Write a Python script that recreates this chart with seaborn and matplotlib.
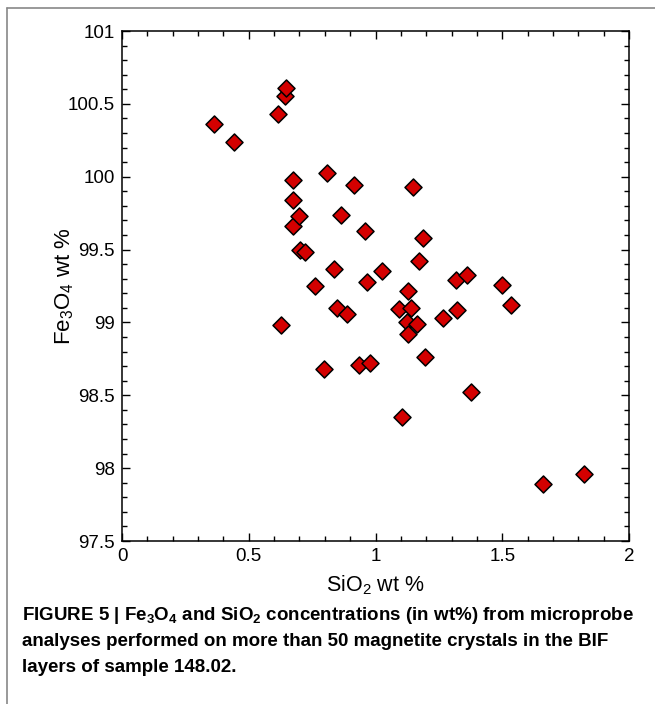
import matplotlib
matplotlib.use("Agg")
import matplotlib.pyplot as plt
import seaborn as sns
import pandas as pd
from matplotlib.lines import Line2D
from matplotlib.ticker import MultipleLocator

sns.set_style("ticks")
plt.rcParams['font.family'] = ['Liberation Sans', 'DejaVu Sans']
plt.rcParams['mathtext.fontset'] = 'custom'
plt.rcParams['mathtext.rm'] = 'Liberation Sans'
plt.rcParams['mathtext.it'] = 'Liberation Sans'
plt.rcParams['mathtext.bf'] = 'Liberation Sans:bold'
for k in ['text.color', 'axes.labelcolor', 'xtick.color', 'ytick.color', 'axes.edgecolor']:
    plt.rcParams[k] = 'black'

sio2 = [0.364, 0.443, 0.614, 0.643, 0.647, 0.626, 0.676, 0.676, 0.676, 0.698,
        0.702, 0.722, 0.760, 0.798, 0.809, 0.838, 0.847, 0.865, 0.889, 0.915,
        0.936, 0.960, 0.965, 0.978, 1.027, 1.093, 1.105, 1.123, 1.127, 1.127,
        1.140, 1.162, 1.149, 1.172, 1.189, 1.194, 1.266, 1.316, 1.321, 1.360,
        1.377, 1.499, 1.533, 1.660, 1.821]
fe3o4 = [100.36, 100.235, 100.43, 100.555, 100.61, 98.98, 99.975, 99.84, 99.665, 99.73,
         99.495, 99.48, 99.25, 98.683, 100.025, 99.368, 99.10, 99.735, 99.057, 99.94,
         98.71, 99.63, 99.28, 98.72, 99.35, 99.09, 98.35, 99.00, 99.215, 98.92,
         99.10, 98.99, 99.93, 99.425, 99.58, 98.76, 99.03, 99.29, 99.087, 99.327,
         98.525, 99.26, 99.123, 97.89, 97.957]

df = pd.DataFrame({"SiO2": sio2, "Fe3O4": fe3o4})

fig = plt.figure(figsize=(6.55, 7.04), dpi=100)
ax = fig.add_axes([122/655, 1-541/704, (629-122)/655, (541-31)/704])

sns.scatterplot(data=df, x="SiO2", y="Fe3O4", ax=ax, marker="D", s=75,
                color="#d40000", edgecolor="black", linewidth=1.1, zorder=3)

ax.set_xlim(0, 2)
ax.set_ylim(97.5, 101)
ax.xaxis.set_minor_locator(MultipleLocator(0.1))
ax.yaxis.set_minor_locator(MultipleLocator(0.1))
ax.set_xticks([0, 0.5, 1, 1.5, 2])
ax.set_xticklabels(["0", "0.5", "1", "1.5", "2"])
ax.set_yticks([97.5, 98, 98.5, 99, 99.5, 100, 100.5, 101])
ax.set_yticklabels(["97.5", "98", "98.5", "99", "99.5", "100", "100.5", "101"])
ax.tick_params(which="both", direction="in", top=True, right=True, color="black")
ax.tick_params(which="major", length=6, width=1.0, labelsize=13.5, pad=5)
ax.tick_params(which="minor", length=3.5, width=1.0)
for sp in ax.spines.values():
    sp.set_visible(True)
    sp.set_linewidth(1.1)
    sp.set_color("black")

ax.set_xlabel(r"SiO$_2$ wt %", fontsize=15.5, labelpad=6)
ax.set_ylabel(r"Fe$_3$O$_4$ wt %", fontsize=16)
ax.yaxis.set_label_coords(-0.09, 0.5)

# frame lines (left and top)
fig.add_artist(Line2D([7/655, 7/655], [0, 1-8/704], transform=fig.transFigure,
                      color="#888888", lw=1.2))
fig.add_artist(Line2D([7/655, 1], [1-8/704, 1-8/704], transform=fig.transFigure,
                      color="#888888", lw=1.2))

cap = [r"FIGURE 5 | Fe$_\mathbf{3}$O$_\mathbf{4}$ and SiO$_\mathbf{2}$ concentrations (in wt%) from microprobe",
       "analyses performed on more than 50 magnetite crystals in the BIF",
       "layers of sample 148.02."]
for i, line in enumerate(cap):
    fig.text(22/655, 1-(616+26*i)/704, line, fontsize=13.5, fontweight="bold",
             ha="left", va="center")

fig.savefig("out.png", dpi=100)
